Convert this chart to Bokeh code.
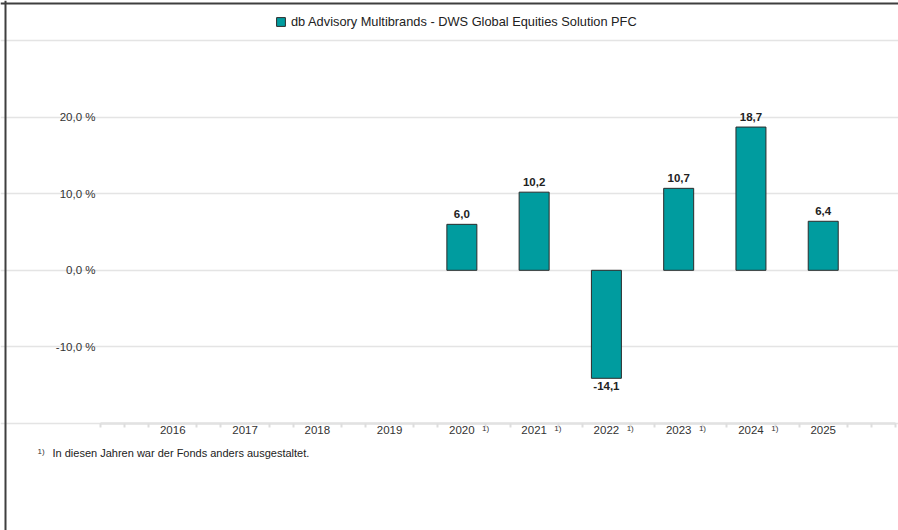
from bokeh.plotting import figure
from bokeh.models import (ColumnDataSource, Range1d, FixedTicker, LabelSet, Label,
                          Legend, LegendItem, Span)
from bokeh.core.properties import value
from bokeh.embed import file_html
from bokeh.resources import INLINE

# ---- data ----
years = [2016, 2017, 2018, 2019, 2020, 2021, 2022, 2023, 2024, 2025]
bar_years = [2020, 2021, 2022, 2023, 2024, 2025]
bar_values = [6.0, 10.2, -14.1, 10.7, 18.7, 6.4]
footnote_years = [2020, 2021, 2022, 2023, 2024]
y_ticks = [-10, 0, 10, 20]
y_tick_labels = ["-10,0 %", "0,0 %", "10,0 %", "20,0 %"]
grid_ticks = [-20, -10, 0, 10, 20, 30]
series_name = "db Advisory Multibrands - DWS Global Equities Solution PFC"
footnote_mark = "1)"
footnote_text = "In diesen Jahren war der Fonds anders ausgestaltet."

FONT = "Liberation Sans"
TEAL = "#009c9f"
X0, X1 = 2015, 2026      # category span of the chart body
Y0, Y1 = -20, 30         # value span of the chart body
W, H = 898, 530
LEFT, RIGHT, TOP, BOTTOM = 100, 895, 40, 423   # chart body in pixels
kx = (RIGHT - LEFT) / (X1 - X0)
ky = (BOTTOM - TOP) / (Y1 - Y0)

def fmt(v):
    return f"{v:.1f}".replace(".", ",")

pos = [(x, v) for x, v in zip(bar_years, bar_values) if v >= 0]
neg = [(x, v) for x, v in zip(bar_years, bar_values) if v < 0]

src = ColumnDataSource(dict(x=bar_years, top=bar_values))
src_pos = ColumnDataSource(dict(x=[a for a, b in pos], y=[b for a, b in pos],
                                t=[fmt(b) for a, b in pos]))
src_neg = ColumnDataSource(dict(x=[a for a, b in neg], y=[b for a, b in neg],
                                t=[fmt(b) for a, b in neg]))
src_fn = ColumnDataSource(dict(x=[y + 0.28 for y in footnote_years],
                               y=[Y0] * len(footnote_years),
                               t=[footnote_mark] * len(footnote_years)))

p = figure(width=W, height=H, output_backend="svg", toolbar_location=None,
           x_range=Range1d(X0 - LEFT / kx, X1 + (W - RIGHT) / kx),
           y_range=Range1d(Y0 - (H - BOTTOM) / ky, Y1 + TOP / ky),
           min_border=0)
p.background_fill_color = "white"
p.border_fill_color = "white"
p.outline_line_color = None

# page frame lines (top and left) of the screenshot
p.add_layout(Span(location=5, location_units="screen", dimension="height",
                  line_color="#3f3f3f", line_width=2))
p.add_layout(Span(location=H - 3, location_units="screen", dimension="width",
                  line_color="#3f3f3f", line_width=2))

r = p.vbar(x="x", top="top", bottom=0, width=0.415, source=src,
           fill_color=TEAL, line_color="#2b2b2b", line_width=1)

# grid
p.xgrid.visible = False
p.ygrid.ticker = FixedTicker(ticks=grid_ticks)
p.ygrid.bounds = (X0, X1)
p.ygrid.grid_line_color = "#e4e4e4"
p.ygrid.grid_line_width = 1.5

# y axis
ya = p.yaxis[0]
ya.fixed_location = X0
ya.ticker = FixedTicker(ticks=y_ticks)
ya.major_label_overrides = {t: l for t, l in zip(y_ticks, y_tick_labels)}
ya.axis_line_color = None
ya.major_tick_line_color = None
ya.minor_tick_line_color = None
ya.major_tick_out = 0
ya.major_tick_in = 0
ya.major_label_standoff = 5
ya.major_label_text_font = FONT
ya.major_label_text_font_size = "11.5px"
ya.major_label_text_color = "#333333"

# x axis
minor = [X0] + [y + d for y in range(X0, X1) for d in (1 / 3, 2 / 3)] + [X1]
xa = p.xaxis[0]
xa.fixed_location = Y0
xa.bounds = (X0, X1)
xa.ticker = FixedTicker(ticks=years, minor_ticks=minor)
xa.axis_line_color = "#e2e2e2"
xa.axis_line_width = 2.5
xa.major_tick_line_color = None
xa.major_tick_out = 0
xa.major_tick_in = 0
xa.minor_tick_line_color = "#dddddd"
xa.minor_tick_line_width = 2
xa.minor_tick_out = 4
xa.minor_tick_in = 0
xa.major_label_standoff = -2
xa.major_label_text_font = FONT
xa.major_label_text_font_size = "11.5px"
xa.major_label_text_color = "#333333"

# bar value labels
p.add_layout(LabelSet(x="x", y="y", text="t", source=src_pos, y_offset=6,
                      text_align="center", text_baseline="bottom",
                      text_font=value(FONT), text_font_size=value("11.5px"),
                      text_font_style="bold", text_color="#222222"))
p.add_layout(LabelSet(x="x", y="y", text="t", source=src_neg, y_offset=-4,
                      text_align="center", text_baseline="top",
                      text_font=value(FONT), text_font_size=value("11.5px"),
                      text_font_style="bold", text_color="#222222"))

# footnote markers next to the years
p.add_layout(LabelSet(x="x", y="y", text="t", source=src_fn, y_offset=-5,
                      text_align="left", text_baseline="middle",
                      text_font=value(FONT), text_font_size=value("8px"),
                      text_color="#333333"))

# footnote
p.add_layout(Label(x=37, y=H - 451, x_units="screen", y_units="screen",
                   text=footnote_mark, text_font=FONT, text_font_size="8px",
                   text_color="#333333", text_baseline="middle"))
p.add_layout(Label(x=52, y=H - 452, x_units="screen", y_units="screen",
                   text=footnote_text, text_font=FONT, text_font_size="11px",
                   text_color="#222222", text_baseline="middle"))

# legend
legend = Legend(items=[LegendItem(label=series_name, renderers=[r])],
                location=(275, H - 29), orientation="horizontal",
                glyph_width=11, glyph_height=11, label_standoff=5,
                label_height=11, padding=0, margin=0, spacing=0,
                border_line_color=None, background_fill_alpha=0,
                label_text_font=FONT, label_text_font_size="12.8px",
                label_text_color="#222222", label_text_baseline="middle")
p.add_layout(legend, "center")

open("out.html", "w").write(file_html(p, INLINE))
